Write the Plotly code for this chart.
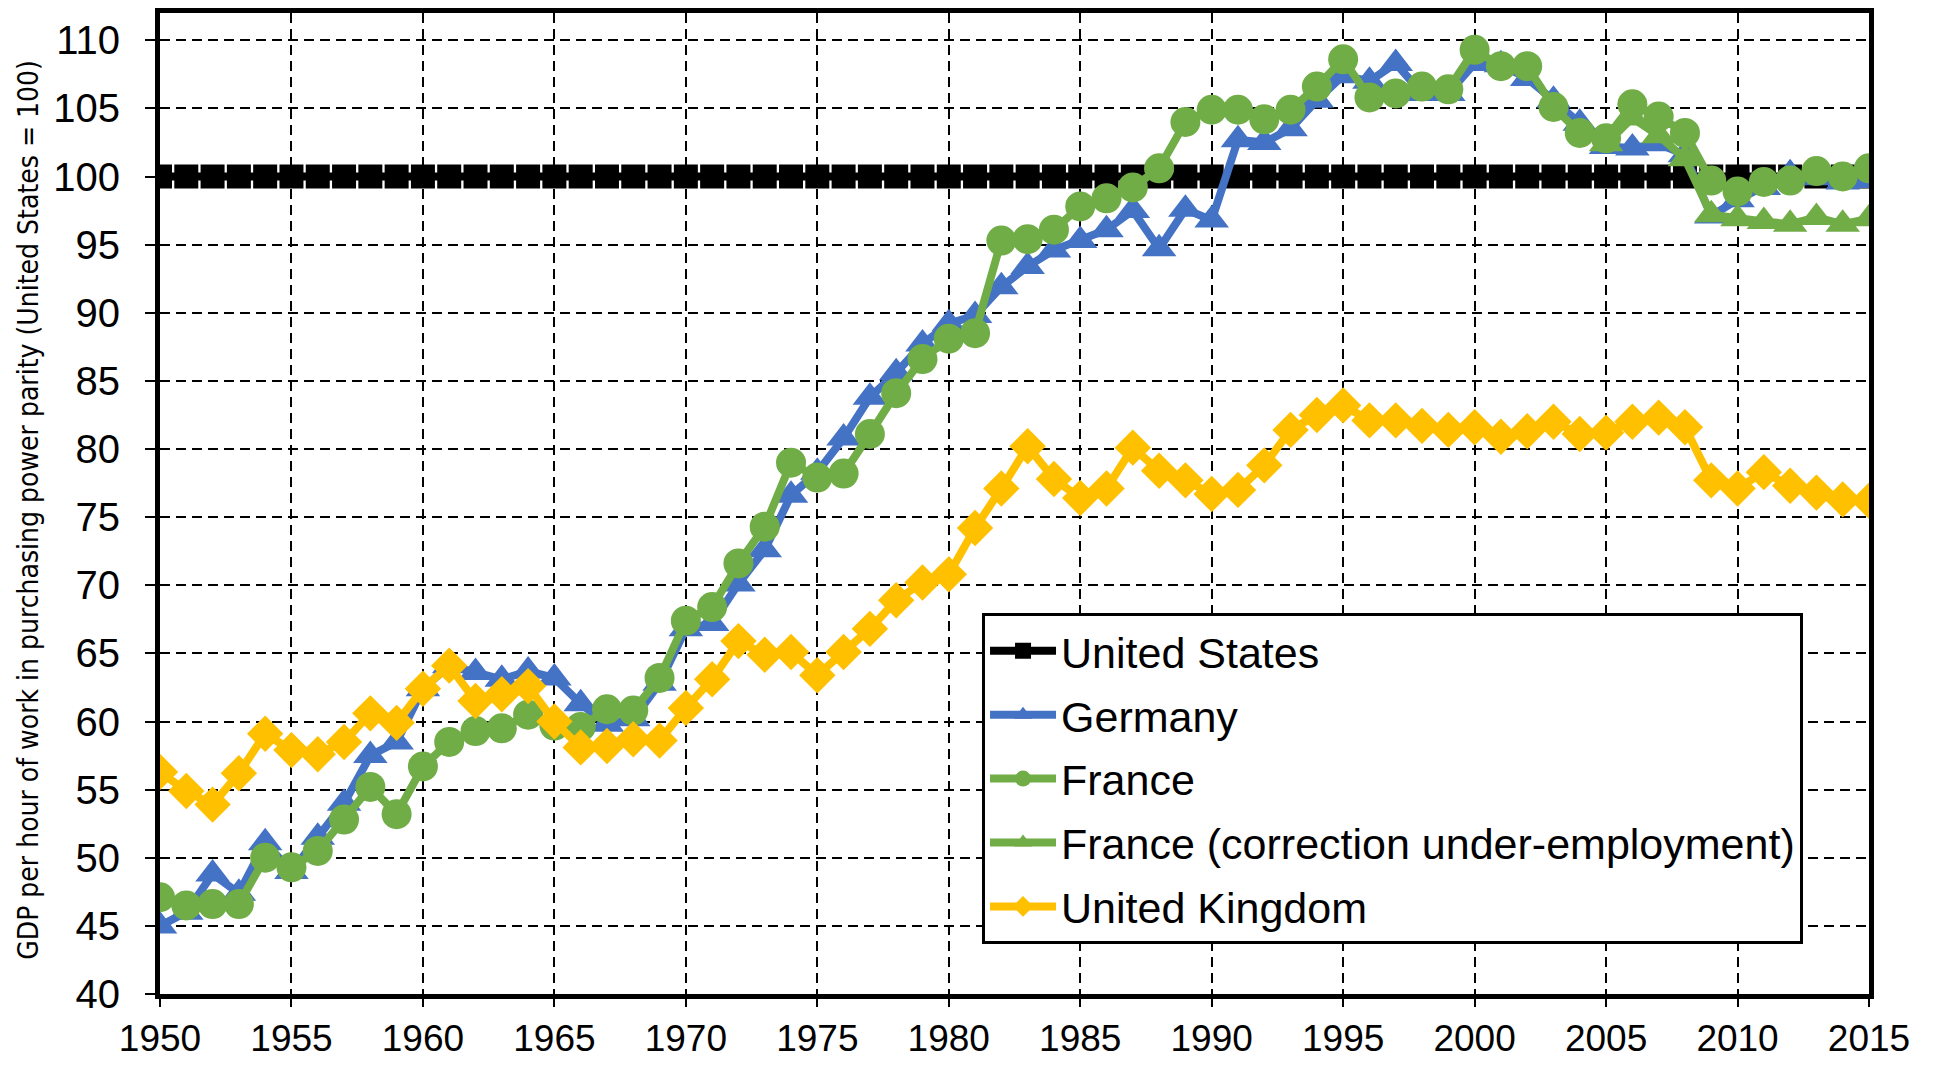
import plotly.graph_objects as go

years = list(range(1950, 2016))

united_states = [100.0] * len(years)

germany = [
    45.0, 46.0, 48.8, 47.4, 51.1, 49.0, 51.5, 54.0, 57.5, 58.5,
    62.4, 64.1, 63.6, 63.1, 63.7, 63.2, 61.3, 59.8, 60.2, 62.8,
    66.8, 67.2, 70.1, 72.6, 76.6, 78.3, 80.8, 83.8, 85.6, 87.7,
    89.2, 89.8, 91.9, 93.4, 94.6, 95.3, 96.1, 97.5, 94.7, 97.6,
    96.8, 102.7, 102.5, 103.5, 105.6, 107.4, 107.0, 108.3, 106.1, 106.1,
    108.3, 108.2, 107.2, 105.6, 103.9, 102.2, 102.1, 102.4, 101.6, 97.1,
    98.3, 99.2, 100.2, 99.9, 99.6, 99.7,
]

france = [
    47.1, 46.5, 46.6, 46.6, 50.0, 49.3, 50.5, 52.8, 55.2, 53.2,
    56.7, 58.5, 59.3, 59.5, 60.5, 59.7, 59.6, 60.9, 60.8, 63.2,
    67.4, 68.4, 71.6, 74.3, 79.0, 77.9, 78.2, 81.1, 84.1, 86.6,
    88.1, 88.5, 95.3, 95.4, 96.1, 97.8, 98.4, 99.2, 100.6, 104.0,
    104.9, 104.9, 104.2, 104.9, 106.6, 108.6, 105.8, 106.1, 106.6, 106.4,
    109.3, 108.1, 108.1, 105.1, 103.2, 102.8, 105.3, 104.4, 103.2, 99.7,
    98.9, 99.6, 99.7, 100.4, 100.0, 100.6,
]

france_corr_years = list(range(2005, 2016))
france_corr = [102.4, 104.3, 103.0, 101.3, 97.2, 96.9, 96.7, 96.5, 97.0, 96.5, 96.9]

united_kingdom = [
    56.3, 54.9, 53.9, 56.2, 59.1, 57.9, 57.6, 58.5, 60.6, 59.9,
    62.4, 64.1, 61.5, 62.0, 62.6, 60.0, 58.1, 58.2, 58.7, 58.6,
    61.0, 63.1, 65.9, 64.9, 65.1, 63.4, 65.1, 66.8, 68.9, 70.2,
    70.8, 74.2, 77.1, 80.2, 77.8, 76.4, 77.1, 80.1, 78.4, 77.7,
    76.7, 77.0, 78.8, 81.4, 82.5, 83.2, 82.1, 82.1, 81.7, 81.4,
    81.6, 80.9, 81.3, 82.0, 81.1, 81.2, 82.0, 82.3, 81.6, 77.7,
    77.1, 78.3, 77.3, 76.8, 76.3, 76.2,
]

series = [
    ("United States", years, united_states, "#000000", "square", 24),
    ("Germany", years, germany, "#4472C4", "triangle-up", 30),
    ("France", years, france, "#70AD47", "circle", 30),
    ("France (correction under-employment)", france_corr_years, france_corr, "#70AD47", "triangle-up", 30),
    ("United Kingdom", years, united_kingdom, "#FFC000", "diamond", 28),
]

fig = go.Figure()
for i, (name, xs, ys, color, symbol, size) in enumerate(series):
    fig.add_trace(go.Scatter(
        x=xs, y=ys, name=name, mode="lines+markers",
        line=dict(color=color, width=8),
        marker=dict(symbol=symbol, size=size, color=color, line=dict(width=0)),
        legendgroup=f"g{i}",
    ))

axis_common = dict(
    showline=True, linewidth=5, linecolor="black", mirror=True,
    showgrid=True, gridcolor="black", gridwidth=2, griddash="10px,6px",
    zeroline=False, ticks="outside", tickwidth=2, tickcolor="black",
    automargin=False,
)

fig.update_xaxes(
    range=[1950, 2015], dtick=5, tick0=1950, ticklen=8, ticklabelstandoff=0,
    tickfont=dict(family="Liberation Sans, Arial, sans-serif", size=37, color="black"),
    **axis_common,
)
fig.update_yaxes(
    range=[40, 112], dtick=5, tick0=40, ticklen=10, ticklabelstandoff=17,
    tickfont=dict(family="Liberation Sans, Arial, sans-serif", size=40, color="black"),
    **axis_common,
)

fig.add_annotation(
    text="GDP per hour of work in purchasing power parity (United States = 100)",
    xref="paper", yref="paper", x=-0.077, y=0.494,
    xanchor="center", yanchor="middle", textangle=-90, showarrow=False,
    font=dict(family="Liberation Sans Narrow, Arial Narrow, DejaVu Sans Condensed, sans-serif",
              size=28, color="black"),
)

fig.update_layout(
    plot_bgcolor="white", paper_bgcolor="white",
    margin=dict(l=152, r=62, t=5, b=64),
    showlegend=True,
    legend=dict(
        x=0.481, y=0.388, xanchor="left", yanchor="top",
        bgcolor="white", bordercolor="black", borderwidth=3,
        font=dict(family="Liberation Sans, Arial, sans-serif", size=43, color="black"),
        tracegroupgap=5, itemwidth=66,
    ),
)

fig.write_html("out.html")
